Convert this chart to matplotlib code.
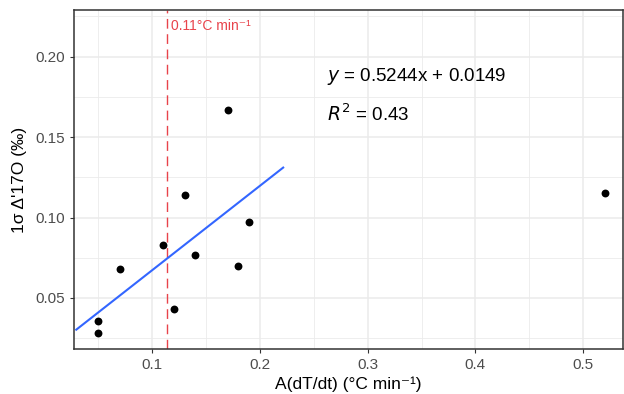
import matplotlib.pyplot as plt
from matplotlib.ticker import MultipleLocator

plt.rcParams['font.family'] = ['Liberation Sans', 'DejaVu Sans']

# data
rate = [0.05, 0.05, 0.07, 0.11, 0.12, 0.13, 0.14, 0.17, 0.18, 0.19, 0.52]
sigma = [0.036, 0.028, 0.068, 0.083, 0.043, 0.114, 0.077, 0.167, 0.070, 0.097, 0.115]

slope = 0.5244
intercept = 0.0149
r2 = 0.43
fit_range = [0.0294, 0.2215]
threshold = 0.1134

fig = plt.figure(figsize=(6.24, 3.94), dpi=100)
ax = fig.add_axes([74 / 624, 45 / 394, 549 / 624, 339 / 394])

ax.set_xlim(0.0273, 0.537)
ax.set_ylim(0.0183, 0.229)
ax.xaxis.set_major_locator(MultipleLocator(0.1))
ax.xaxis.set_minor_locator(MultipleLocator(0.05))
ax.yaxis.set_major_locator(MultipleLocator(0.05))
ax.yaxis.set_minor_locator(MultipleLocator(0.025))
ax.grid(which='major', color='#EBEBEB', lw=1.1, zorder=0)
ax.grid(which='minor', color='#EBEBEB', lw=0.6, zorder=0)
ax.set_axisbelow(True)
for s in ax.spines.values():
    s.set_color('#333333')
    s.set_linewidth(1.1)
ax.tick_params(which='minor', length=0)
ax.tick_params(which='major', length=3, color='#333333', labelcolor='#4D4D4D', labelsize=11)

ax.axvline(threshold, color='#E8434B', ls=(0, (7, 4)), lw=1.0, zorder=2)
ax.text(threshold + 0.004, 0.2235, '0.11°C min⁻¹', color='#E8434B', fontsize=10,
        va='top', ha='left')

fx = fit_range
fy = [slope * v + intercept for v in fx]
ax.plot(fx, fy, color='#3366FF', lw=1.5, zorder=3)

ax.scatter(rate, sigma, s=32, color='black', zorder=4, linewidths=0)

ax.text(0.2625, 0.1875, '$y$ = %.4fx + %.4f' % (slope, intercept), fontsize=13.5, va='center')
ax.text(0.2625, 0.1645, '$R^2$ = %.2f' % r2, fontsize=13.5, va='center')

ax.set_xlabel('A(dT/dt) (°C min⁻¹)', fontsize=12.5, labelpad=3)
ax.set_ylabel("1σ Δ'17O (‰)", fontsize=12.5, labelpad=6)

fig.savefig('out.png', dpi=100)
